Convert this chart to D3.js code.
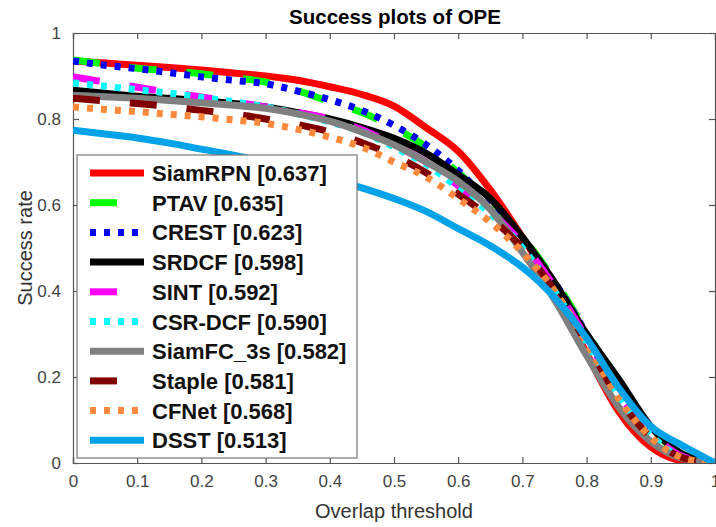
<!DOCTYPE html>
<html>
<head>
<meta charset="utf-8">
<script src="https://cdn.jsdelivr.net/npm/d3@7"></script>
<style>
  body { margin: 0; background: #fff; }
  text { font-family: "Liberation Sans", Arial, Helvetica, sans-serif; }
</style>
</head>
<body>
<div id="chart"></div>
<script>
// Overlap thresholds 0..1 in 0.05 steps
const thresholds = d3.range(0, 21).map(i => i / 20);

// Tracker names with AUC scores (legend order)
const trackers = ["SiamRPN", "PTAV", "CREST", "SRDCF", "SINT", "CSR-DCF", "SiamFC_3s", "Staple", "CFNet", "DSST"];
const scores = ["0.637", "0.635", "0.623", "0.598", "0.592", "0.590", "0.582", "0.581", "0.568", "0.513"];

// Success rate for each threshold
const siamrpn = [0.935, 0.930, 0.925, 0.920, 0.914, 0.907, 0.900, 0.890, 0.875, 0.857, 0.830, 0.780, 0.725, 0.635, 0.525, 0.405, 0.255, 0.120, 0.037, 0.005, 0];
const ptav    = [0.937, 0.928, 0.918, 0.912, 0.905, 0.896, 0.886, 0.866, 0.840, 0.815, 0.780, 0.735, 0.675, 0.605, 0.525, 0.425, 0.305, 0.180, 0.080, 0.020, 0];
const crest   = [0.935, 0.925, 0.917, 0.908, 0.898, 0.890, 0.882, 0.865, 0.845, 0.820, 0.785, 0.740, 0.680, 0.600, 0.515, 0.420, 0.300, 0.170, 0.070, 0.015, 0];
const srdcf   = [0.867, 0.860, 0.853, 0.848, 0.842, 0.836, 0.828, 0.815, 0.800, 0.780, 0.755, 0.720, 0.670, 0.615, 0.525, 0.420, 0.300, 0.195, 0.085, 0.020, 0];
const sint    = [0.898, 0.886, 0.874, 0.862, 0.851, 0.840, 0.828, 0.815, 0.800, 0.775, 0.740, 0.700, 0.645, 0.585, 0.510, 0.410, 0.290, 0.160, 0.070, 0.015, 0];
const csrdcf  = [0.884, 0.876, 0.868, 0.860, 0.850, 0.840, 0.828, 0.812, 0.793, 0.770, 0.735, 0.695, 0.640, 0.580, 0.500, 0.400, 0.280, 0.155, 0.065, 0.012, 0];
const siamfc  = [0.855, 0.852, 0.848, 0.843, 0.838, 0.832, 0.825, 0.812, 0.795, 0.770, 0.740, 0.700, 0.655, 0.590, 0.490, 0.380, 0.250, 0.130, 0.050, 0.010, 0];
const staple  = [0.848, 0.842, 0.836, 0.829, 0.820, 0.812, 0.800, 0.787, 0.770, 0.745, 0.715, 0.675, 0.625, 0.570, 0.500, 0.400, 0.280, 0.150, 0.060, 0.012, 0];
const cfnet   = [0.828, 0.822, 0.817, 0.811, 0.805, 0.798, 0.790, 0.776, 0.758, 0.735, 0.700, 0.665, 0.615, 0.560, 0.490, 0.400, 0.280, 0.150, 0.060, 0.012, 0];
const dsst    = [0.774, 0.765, 0.756, 0.744, 0.730, 0.716, 0.700, 0.682, 0.660, 0.640, 0.615, 0.585, 0.545, 0.505, 0.455, 0.385, 0.290, 0.175, 0.085, 0.040, 0];

const seriesValues = [siamrpn, ptav, crest, srdcf, sint, csrdcf, siamfc, staple, cfnet, dsst];

const xTicks = [0, 0.1, 0.2, 0.3, 0.4, 0.5, 0.6, 0.7, 0.8, 0.9, 1];
const yTicks = [0, 0.2, 0.4, 0.6, 0.8, 1];

// Line styles per tracker
const colors = ["#ff0000", "#00ff00", "#0000ff", "#000000", "#ff00ff", "#00ffff", "#808080", "#800000", "#ff8a3d", "#00a2e8"];
const dashes = ["none", "27,30", "6,8", "none", "27,30", "6,8", "none", "27,30", "6,8", "none"];

const W = 716, H = 527;
const margin = { top: 33, right: 1, bottom: 64, left: 73 };
const width = W - margin.left - margin.right;
const height = H - margin.top - margin.bottom;

const svg = d3.select("#chart")
    .append("svg")
    .attr("width", W)
    .attr("height", H);

const g = svg.append("g")
    .attr("transform", `translate(${margin.left},${margin.top})`);

const x = d3.scaleLinear().domain([0, 1]).range([0, width]);
const y = d3.scaleLinear().domain([0, 1]).range([height, 0]);

const axisColor = "#555";
const fmt = d => d === 0 || d === 1 ? d3.format("d")(d) : d3.format(".1f")(d);

// Axes with inward ticks
const bottomAxis = g.append("g")
    .attr("transform", `translate(0,${height})`)
    .call(d3.axisBottom(x).tickValues(xTicks).tickSize(-6).tickPadding(12).tickFormat(fmt));

const leftAxis = g.append("g")
    .call(d3.axisLeft(y).tickValues(yTicks).tickSize(-6).tickPadding(12).tickFormat(fmt));

const topAxis = g.append("g")
    .call(d3.axisTop(x).tickValues(xTicks).tickSize(-6).tickFormat(""));

const rightAxis = g.append("g")
    .attr("transform", `translate(${width},0)`)
    .call(d3.axisRight(y).tickValues(yTicks).tickSize(-6).tickFormat(""));

[bottomAxis, leftAxis, topAxis, rightAxis].forEach(a => {
    a.selectAll("path, line").attr("stroke", axisColor).attr("stroke-width", 1.2);
    a.selectAll("text")
        .attr("fill", "#444")
        .style("font-size", "17px")
        .style("font-family", "'Liberation Sans', Arial, sans-serif");
});

// Clip lines to the plot box
g.append("clipPath").attr("id", "plotClip")
    .append("rect").attr("width", width).attr("height", height);

const line = d3.line()
    .x((d, i) => x(thresholds[i]))
    .y(d => y(d))
    .curve(d3.curveMonotoneX);

const lines = g.append("g").attr("clip-path", "url(#plotClip)");

seriesValues.forEach((vals, i) => {
    lines.append("path")
        .datum(vals)
        .attr("fill", "none")
        .attr("stroke", colors[i])
        .attr("stroke-width", 7)
        .attr("stroke-linejoin", "round")
        .attr("stroke-dasharray", dashes[i])
        .attr("d", line);
});

// Title and axis labels
svg.append("text")
    .attr("x", 395)
    .attr("y", 24)
    .attr("text-anchor", "middle")
    .style("font-size", "20.5px")
    .style("font-weight", "bold")
    .text("Success plots of OPE");

svg.append("text")
    .attr("x", margin.left + width / 2)
    .attr("y", 518)
    .attr("text-anchor", "middle")
    .attr("fill", "#333")
    .style("font-size", "20px")
    .text("Overlap threshold");

svg.append("text")
    .attr("transform", `translate(32, ${margin.top + height / 2}) rotate(-90)`)
    .attr("text-anchor", "middle")
    .attr("fill", "#333")
    .style("font-size", "20px")
    .text("Success rate");

// Legend
const legend = svg.append("g")
    .attr("transform", "translate(77,155)");

legend.append("rect")
    .attr("width", 280)
    .attr("height", 303)
    .attr("fill", "#fff")
    .attr("stroke", "#777")
    .attr("stroke-width", 1.2);

trackers.forEach((name, i) => {
    const row = legend.append("g")
        .attr("transform", `translate(0, ${18 + i * 29.7})`);

    row.append("line")
        .attr("x1", 13)
        .attr("x2", 67)
        .attr("stroke", colors[i])
        .attr("stroke-width", 7)
        .attr("stroke-dasharray", dashes[i]);

    row.append("text")
        .attr("x", 75)
        .attr("y", 8)
        .style("font-size", "22px")
        .style("font-weight", "bold")
        .attr("fill", "#111")
        .text(`${name} [${scores[i]}]`);
});
</script>
</body>
</html>
